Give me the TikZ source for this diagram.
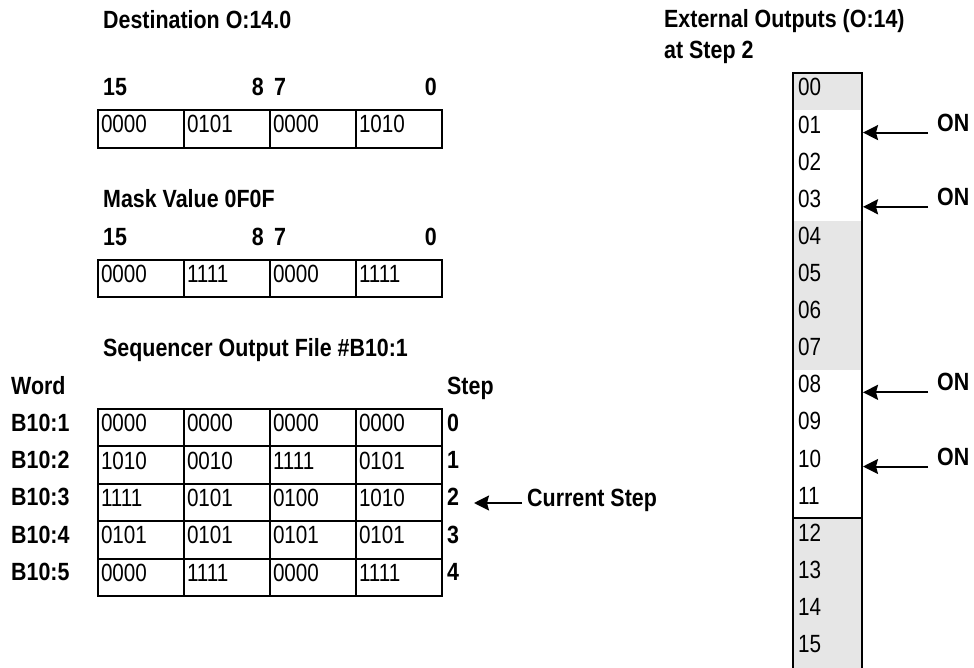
\documentclass[tikz,border=0pt]{standalone}
\usepackage{fontspec}
\setmainfont{Liberation Sans}[FakeStretch=0.86]
\newfontfamily\cellfont{Liberation Sans}[FakeStretch=0.83]
\usetikzlibrary{arrows.meta}
\definecolor{bandgray}{HTML}{E6E6E6}

\tikzset{
  cell/.style={draw, line width=2bp, minimum width=86bp, minimum height=37.4bp,
    text width=80bp, inner xsep=3bp, inner ysep=0pt, align=left,
    text height=18bp, text depth=10bp, font=\cellfont\fontsize{25}{28}\selectfont},
  lbl/.style={anchor=base west, inner sep=0pt, font=\bfseries\fontsize{25}{28}\selectfont},
  lblr/.style={lbl, anchor=base east},
  bit/.style={anchor=base west, inner sep=0pt, font=\cellfont\fontsize{25}{28}\selectfont},
  onarrow/.style={line width=2bp, -{Stealth[length=15bp, width=15bp, inset=2bp]}},
}

\begin{document}
\begin{tikzpicture}[x=1bp, y=-1bp]
    \useasboundingbox (0,0) rectangle (974,668);

    \node[lbl] (dest) at (103,29) {Destination O:14.0};
    \node[lbl] (mask) at (103,207) {Mask Value 0F0F};
    \node[lbl] (seq) at (103,356) {Sequencer Output File \#B10:1};
    \node[lbl] (word) at (11,394) {Word};
    \node[lbl] (step) at (447,394) {Step};

    % bit numbers over the two words
    \foreach \y [count=\k] in {96,245} {
        \node[lbl] (hi\k) at (103,\y) {15};
        \node[lblr] (bh\k) at (264,\y) {8};
        \node[lbl] (bl\k) at (274,\y) {7};
        \node[lblr] (lo\k) at (437,\y) {0};
    }

    \foreach \v [count=\i] in {0000,0101,0000,1010}
        \node[cell] (d\i) at ({55+86*\i},129) {\v};
    \foreach \v [count=\i] in {0000,1111,0000,1111}
        \node[cell] (m\i) at ({55+86*\i},278.5) {\v};

    \foreach \row [count=\r] in {{0000,0000,0000,0000},{1010,0010,1111,0101},
        {1111,0101,0100,1010},{0101,0101,0101,0101},{0000,1111,0000,1111}} {
        \foreach \v [count=\c] in \row
            \node[cell] (s\r\c) at ({55+86*\c},{390.3+37.4*\r}) {\v};
        \pgfmathtruncatemacro\s{\r-1}
        \node[lbl] (w\r) at (11,{393.7+37.4*\r}) {B10:\r};
        \node[lbl] (st\r) at (447,{393.7+37.4*\r}) {\s};
    }

    \coordinate (cstip) at (474,503);
    \node[lbl, inner xsep=5bp] (cur) at (522,506) {Current Step};
    \draw[onarrow] (cur.west |- cstip) -- (cstip);

    % output word O:14
    \node[lbl] (ext) at (664,28) {External Outputs (O:14)};
    \node[lbl] (atstep) at (664,59) {at Step 2};

    \fill[bandgray] (793,73) rectangle (862,110.1);
    \fill[bandgray] (793,221.4) rectangle (862,369.8);
    \fill[bandgray] (793,518) rectangle (862,668);
    \draw[line width=2bp] (793,668) -- (793,73) -- (862,73) -- (862,668);
    \draw[line width=2bp] (793,518) -- (862,518);

    \foreach \n in {0,...,15}
        \node[bit] (o\n) at (798,{96+37.1*\n}) {\ifnum\n<10 0\fi\n};

    \foreach \n in {1,3,8,10} {
        \coordinate (tip\n) at (863,{95.5+37.1*\n});
        \node[lbl, inner xsep=9bp] (on\n) at (928,{94+37.1*\n}) {ON};
        \draw[onarrow] (on\n.west |- tip\n) -- (tip\n);
    }
\end{tikzpicture}
\end{document}
